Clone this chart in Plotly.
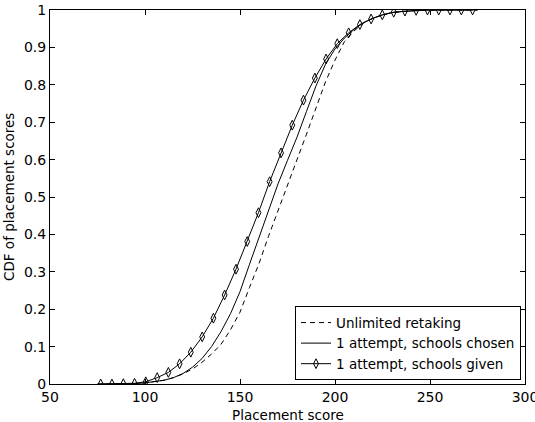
import plotly.graph_objects as go

# "1 attempt, schools given" (marker series)
given_x = [76.7, 82.6, 88.6, 94.5, 100.4, 106.4, 112.3, 118.2, 124.1, 130.1, 136.0,
           141.9, 147.9, 153.8, 159.7, 165.6, 171.6, 177.5, 183.4, 189.4, 195.3,
           201.2, 207.2, 213.1, 219.0, 224.9, 230.9, 236.8, 242.7, 248.7, 254.6,
           260.5, 266.5, 272.4]
given_y = [0.0, 0.0, 0.001, 0.002, 0.006, 0.017, 0.031, 0.054, 0.085, 0.126, 0.176,
           0.238, 0.307, 0.381, 0.458, 0.541, 0.618, 0.692, 0.759, 0.818, 0.869,
           0.910, 0.939, 0.961, 0.976, 0.987, 0.994, 0.997, 0.999, 1.0, 1.0,
           1.0, 1.0, 1.0]

# common x grid for the two curves
curve_x = [75, 80, 85, 90, 95, 100, 105, 110, 115, 120, 125, 130, 135, 140, 145,
           150, 155, 160, 165, 170, 175, 180, 185, 190, 195, 200, 205, 210, 215,
           220, 225, 230, 235, 240, 245, 250, 255, 260, 265, 270, 275]

# "1 attempt, schools chosen"
chosen_y = [0.0, 0.0, 0.0, 0.0005, 0.001, 0.003, 0.006, 0.010, 0.017, 0.028, 0.045,
            0.068, 0.100, 0.140, 0.188, 0.247, 0.320, 0.392, 0.464, 0.535, 0.598,
            0.660, 0.729, 0.797, 0.855, 0.896, 0.925, 0.948, 0.966, 0.978, 0.987,
            0.993, 0.996, 0.998, 0.999, 1.0, 1.0, 1.0, 1.0, 1.0, 1.0]

# "Unlimited retaking"
unlimited_y = [0.0, 0.0, 0.0, 0.0005, 0.001, 0.003, 0.006, 0.010, 0.017, 0.027, 0.040,
               0.058, 0.080, 0.106, 0.145, 0.192, 0.258, 0.322, 0.395, 0.462, 0.533,
               0.600, 0.668, 0.738, 0.808, 0.866, 0.916, 0.944, 0.965, 0.978, 0.987,
               0.993, 0.996, 0.998, 0.999, 1.0, 1.0, 1.0, 1.0, 1.0, 1.0]

x_ticks = [50, 100, 150, 200, 250, 300]
y_ticks = [0, 0.1, 0.2, 0.3, 0.4, 0.5, 0.6, 0.7, 0.8, 0.9, 1]
y_tick_text = ["0", "0.1", "0.2", "0.3", "0.4", "0.5", "0.6", "0.7", "0.8", "0.9", "1"]

x_title = "Placement score"
y_title = "CDF of placement scores"

FONT = "DejaVu Sans, Liberation Sans, Arial, sans-serif"
TICK_SIZE = 14
TEXT_SIZE = 13.5

fig = go.Figure()
fig.add_trace(go.Scatter(x=curve_x, y=unlimited_y, mode="lines",
                         name="Unlimited retaking",
                         line=dict(color="black", width=1, dash="5px,4px")))
fig.add_trace(go.Scatter(x=curve_x, y=chosen_y, mode="lines",
                         name="1 attempt, schools chosen",
                         line=dict(color="black", width=1)))
fig.add_trace(go.Scatter(x=given_x, y=given_y, mode="lines+markers",
                         name="1 attempt, schools given",
                         line=dict(color="black", width=1),
                         marker=dict(symbol="diamond-tall-open", size=7,
                                     color="black", line=dict(width=1, color="black"))))

axis_common = dict(showgrid=False, zeroline=False, showline=True, linecolor="black",
                   linewidth=1, mirror="ticks", ticks="inside", ticklen=5,
                   tickcolor="black", tickwidth=1, ticklabeloverflow="allow",
                   tickfont=dict(family=FONT, size=TICK_SIZE, color="black"))

fig.update_xaxes(range=[50, 300], tickvals=x_ticks, **axis_common)
fig.update_yaxes(range=[0, 1], tickvals=y_ticks, ticktext=y_tick_text, **axis_common)

# plot area: 475 x 374 px
fig.update_layout(
    width=535, height=422,
    margin=dict(l=50, r=10, t=10, b=38, autoexpand=False),
    paper_bgcolor="white", plot_bgcolor="white",
    font=dict(family=FONT, size=TEXT_SIZE, color="black"),
    legend=dict(x=0.9916, y=0.0099, xanchor="right", yanchor="bottom",
                bordercolor="black", borderwidth=1, bgcolor="white",
                font=dict(family=FONT, size=TEXT_SIZE, color="black"),
                itemwidth=30, tracegroupgap=0),
    showlegend=True,
    annotations=[
        dict(text=x_title, xref="paper", yref="paper", x=0.5, y=-0.0816,
             xanchor="center", yanchor="middle", showarrow=False,
             font=dict(family=FONT, size=TEXT_SIZE, color="black")),
        dict(text=y_title, xref="paper", yref="paper", x=-0.0863, y=0.5,
             xanchor="center", yanchor="middle", textangle=-90, showarrow=False,
             font=dict(family=FONT, size=TEXT_SIZE, color="black")),
    ],
)

fig.write_html("out.html", config={"displayModeBar": False},
               post_script="document.body.style.margin='0';")
